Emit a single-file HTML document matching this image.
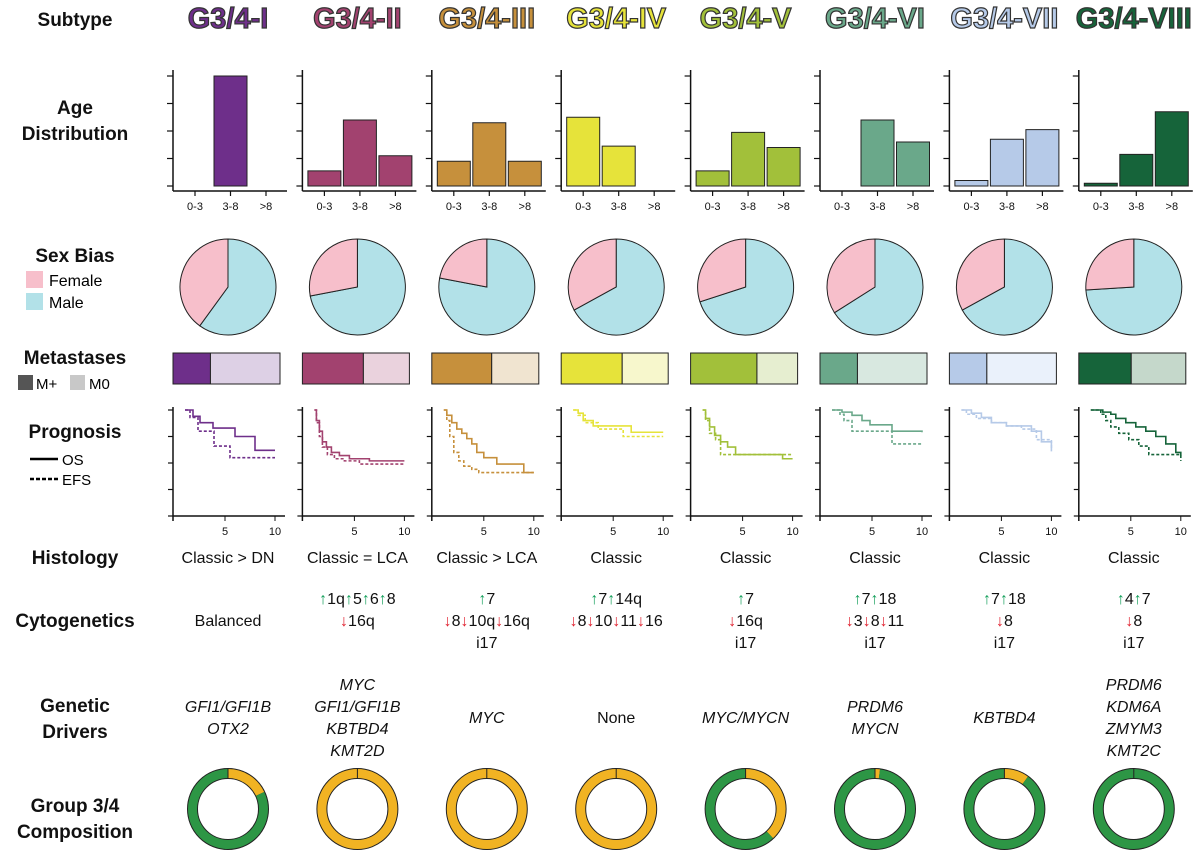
<!DOCTYPE html>
<html><head><meta charset="utf-8"><style>
body{margin:0;background:#fff;}
svg{display:block;font-family:"Liberation Sans",sans-serif;}
.lab{font-weight:bold;font-size:19px;text-anchor:middle;fill:#111;}
.t{font-size:16px;text-anchor:middle;fill:#111;}
.it{font-size:16px;text-anchor:middle;font-style:italic;fill:#111;}
.tick{font-size:11px;text-anchor:middle;fill:#111;}
</style></head><body>
<svg id="fig" width="1200" height="863" viewBox="0 0 1200 863">
<g>
<text class="lab" x="75" y="26">Subtype</text>
<text class="lab" x="75" y="114">Age</text>
<text class="lab" x="75" y="140">Distribution</text>
<text class="lab" x="75" y="262">Sex Bias</text>
<rect x="26" y="271" width="17" height="17" fill="#f7bfcb"/>
<text x="49" y="286" font-size="16">Female</text>
<rect x="26" y="293" width="17" height="17" fill="#b2e1e8"/>
<text x="49" y="308" font-size="16">Male</text>
<text class="lab" x="75" y="364">Metastases</text>
<rect x="18" y="375" width="15" height="15" fill="#555"/>
<text x="36" y="389" font-size="15">M+</text>
<rect x="70" y="375" width="15" height="15" fill="#c8c8c8"/>
<text x="89" y="389" font-size="15">M0</text>
<text class="lab" x="75" y="438">Prognosis</text>
<line x1="30" y1="459" x2="58" y2="459" stroke="#000" stroke-width="2.5"/>
<text x="62" y="465" font-size="15">OS</text>
<line x1="30" y1="479" x2="58" y2="479" stroke="#000" stroke-width="2.5" stroke-dasharray="4,2"/>
<text x="62" y="485" font-size="15">EFS</text>
<text class="lab" x="75" y="564">Histology</text>
<text class="lab" x="75" y="627">Cytogenetics</text>
<text class="lab" x="75" y="712">Genetic</text>
<text class="lab" x="75" y="738">Drivers</text>
<text class="lab" x="75" y="812">Group 3/4</text>
<text class="lab" x="75" y="838">Composition</text>
</g>
</svg>
<script>
const subtypes=["G3/4-I","G3/4-II","G3/4-III","G3/4-IV","G3/4-V","G3/4-VI","G3/4-VII","G3/4-VIII"];
const darkColors=["#6e2f8a","#a2426f","#c6903c","#e6e33a","#a2c03a","#6aa88a","#b6cae8","#16643a"];
const lightColors=["#ddd0e5","#ead2dd","#f0e4d0","#f7f7cc","#e6eed0","#d8e8e0","#eaf1fb","#c5d8cb"];
const ageCats=["0-3","3-8",">8"];
const ageVals=[[0,4,0],[0.55,2.4,1.1],[0.9,2.3,0.9],[2.5,1.45,0],[0.55,1.95,1.4],[0,2.4,1.6],[0.2,1.7,2.05],[0.1,1.15,2.7]];
const femaleFrac=[0.40,0.28,0.22,0.33,0.30,0.34,0.33,0.26];
const metPlusFrac=[0.35,0.57,0.56,0.57,0.62,0.35,0.35,0.49];
const osT=[[1,1.8,2.5,3.8,6,8,10],[1,1.2,1.5,1.8,2.2,2.7,3.5,4.5,6.5,10],[1,1.3,1.8,2.3,2.8,3.3,3.8,4.3,5,6.3,9,10],[1,1.5,2,3,6.8,10],[1,1.3,1.7,2.2,2.8,3.5,4.3,9,10],[1,2,3,4,4.8,7,10],[1,2,3,4,5.5,8,9,10],[1,2.2,3,3.5,4.5,5.5,6.5,7.5,8.5,9.5,10]];
const osS=[[1,.94,.88,.83,.75,.62,.62],[1,.9,.8,.7,.65,.6,.57,.54,.52,.52],[1,.95,.88,.82,.78,.73,.68,.6,.55,.49,.41,.41],[1,.97,.9,.85,.79,.79],[1,.92,.84,.76,.7,.65,.58,.54,.54],[1,.98,.95,.9,.86,.8,.79],[1,.97,.93,.88,.85,.8,.7,.61],[1,.98,.96,.92,.88,.84,.8,.75,.68,.6,.57]];
const efsT=[[1,1.5,2.3,3.9,5.5,10],[1,1.2,1.5,1.8,2.3,3,4,5.5,10],[1,1.3,1.6,2,2.5,3,3.8,4.5,10],[1,1.5,2.2,3.5,6,10],[1,1.3,1.7,2.3,2.8,10],[1,1.8,2.2,3,7,10],[1,1.5,2.5,4,5.5,7,8.5,10],[1,2,2.5,3,3.8,4.8,5.8,6.8,10]];
const efsS=[[1,.93,.8,.66,.55,.55],[1,.88,.75,.65,.58,.54,.52,.49,.49],[1,.9,.75,.6,.52,.47,.44,.41,.41],[1,.95,.88,.82,.75,.75],[1,.9,.78,.72,.58,.58],[1,.96,.9,.8,.68,.68],[1,.96,.92,.88,.85,.82,.72,.63],[1,.96,.9,.84,.78,.72,.66,.58,.52]];
const histology=["Classic > DN","Classic = LCA","Classic > LCA","Classic","Classic","Classic","Classic","Classic"];
const cytoGain=[[],["1q","5","6","8"],["7"],["7","14q"],["7"],["7","18"],["7","18"],["4","7"]];
const cytoLoss=[[],["16q"],["8","10q","16q"],["8","10","11","16"],["16q"],["3","8","11"],["8"],["8"]];
const cytoI17=[false,false,true,false,true,true,true,true];
const drivers=[["GFI1/GFI1B","OTX2"],["MYC","GFI1/GFI1B","KBTBD4","KMT2D"],["MYC"],["None"],["MYC/MYCN"],["PRDM6","MYCN"],["KBTBD4"],["PRDM6","KDM6A","ZMYM3","KMT2C"]];
const group4Frac=[0.82,0,0,0,0.62,0.98,0.9,1.0];

const NS="http://www.w3.org/2000/svg";
const svg=document.getElementById('fig');
function el(tag,attrs,parent,txt){const e=document.createElementNS(NS,tag);for(const k in attrs)e.setAttribute(k,attrs[k]);if(txt!==undefined)e.textContent=txt;(parent||svg).appendChild(e);return e;}
const axisX=i=>173+129.4*i;
const ageY=v=>186-v*27.5;
const survX=(i,t)=>axisX(i)+2+10*t;
const survY=s=>516-106*s;

function stepPath(i,T,S){let d=`M${survX(i,T[0])},${survY(S[0])}`;for(let k=1;k<T.length;k++){d+=` H${survX(i,T[k])} V${survY(S[k])}`;}return d;}
function wedge(cx,cy,r,a0,a1){const p0=[cx+r*Math.sin(a0),cy-r*Math.cos(a0)],p1=[cx+r*Math.sin(a1),cy-r*Math.cos(a1)];const large=Math.abs(a1-a0)>Math.PI?1:0;const sw=a1>a0?1:0;return `M${cx},${cy} L${p0[0]},${p0[1]} A${r},${r} 0 ${large} ${sw} ${p1[0]},${p1[1]} Z`;}
function arcSeg(cx,cy,r,a0,a1){const p0=[cx+r*Math.sin(a0),cy-r*Math.cos(a0)],p1=[cx+r*Math.sin(a1),cy-r*Math.cos(a1)];const large=(a1-a0)>Math.PI?1:0;return `M${p0[0]},${p0[1]} A${r},${r} 0 ${large} 1 ${p1[0]},${p1[1]}`;}

subtypes.forEach((name,i)=>{
  const ax=axisX(i), cx=ax+55;
  const g=el('g',{});
  
  
  const tt=el('text',{x:cx,y:28,'text-anchor':'middle','font-size':29,'font-weight':'bold',fill:darkColors[i],stroke:'#333','stroke-width':1.2},g,name);
  
  
  const ag=el('g',{},g);
  
  
  el('line',{x1:ax,y1:70,x2:ax,y2:191,stroke:'#111','stroke-width':1.5},ag);
  el('line',{x1:ax,y1:191,x2:ax+114,y2:191,stroke:'#111','stroke-width':1.5},ag);
  for(let k=0;k<=4;k++)el('line',{x1:ax-6,y1:ageY(k),x2:ax,y2:ageY(k),stroke:'#111','stroke-width':1.2},ag);
  ageCats.forEach((c,k)=>{
    const bx=ax+22+35.5*k;
    el('line',{x1:bx,y1:191,x2:bx,y2:196,stroke:'#111','stroke-width':1.2},ag);
    const lt=el('text',{class:'tick',x:bx,y:210},ag,c);
    
    
    const v=ageVals[i][k];
    if(v>0){const r=el('rect',{x:bx-16.5,y:ageY(v),width:33,height:186-ageY(v),fill:darkColors[i],stroke:'#222','stroke-width':1},ag);
      
      }
  });
  const pg=el('g',{},g);
  
  
  const fa=femaleFrac[i]*2*Math.PI;
  const mp=el('path',{d:wedge(cx,287,48,0,2*Math.PI-fa),fill:'#b2e1e8',stroke:'#222','stroke-width':1},pg);
  
  
  const fp=el('path',{d:wedge(cx,287,48,0,-fa),fill:'#f7bfcb',stroke:'#222','stroke-width':1},pg);
  
  
  const mw=107,mx=ax,mpw=mw*metPlusFrac[i];
  const m1=el('rect',{x:mx,y:353,width:mpw,height:31,fill:darkColors[i],stroke:'#222','stroke-width':1},g);
  
  
  const m2=el('rect',{x:mx+mpw,y:353,width:mw-mpw,height:31,fill:lightColors[i],stroke:'#222','stroke-width':1},g);
  
  
  const sg=el('g',{},g);
  
  
  el('line',{x1:ax,y1:407,x2:ax,y2:521,stroke:'#111','stroke-width':1.5},sg);
  el('line',{x1:ax,y1:516,x2:ax+112,y2:516,stroke:'#111','stroke-width':1.5},sg);
  for(let k=0;k<=4;k++)el('line',{x1:ax-5,y1:survY(k/4),x2:ax,y2:survY(k/4),stroke:'#111','stroke-width':1.2},sg);
  [5,10].forEach(t=>{el('line',{x1:survX(i,t),y1:516,x2:survX(i,t),y2:521,stroke:'#111'},sg);
    const tl=el('text',{class:'tick',x:survX(i,t),y:535},sg,t);
    
    });
  const efs=el('path',{d:stepPath(i,efsT[i],efsS[i]),fill:'none',stroke:darkColors[i],'stroke-width':1.6,'stroke-dasharray':'3,2'},sg);
  
  
  const os=el('path',{d:stepPath(i,osT[i],osS[i]),fill:'none',stroke:darkColors[i],'stroke-width':1.6},sg);
  
  
  const ht=el('text',{class:'t',x:cx,y:563},g,histology[i]);
  
  
  const lines=[];
  if(cytoGain[i].length)lines.push(cytoGain[i].map(s=>['↑',s]));
  if(cytoLoss[i].length)lines.push(cytoLoss[i].map(s=>['↓',s]));
  if(cytoI17[i])lines.push([['','i17']]);
  if(!lines.length){const bt=el('text',{class:'t',x:cx,y:626},g,'Balanced');}
  lines.forEach((ln,k)=>{
    const tx=el('text',{class:'t',x:cx,y:604+22*k},g);
    
    
    ln.forEach(([a,s])=>{if(a)el('tspan',{fill:a==='↑'?'#16a05c':'#e0202e'},tx,a);el('tspan',{},tx,s);});
  });
  const dl=drivers[i],n=dl.length;
  dl.forEach((d,k)=>{const dt=el('text',{class:d==='None'?'t':'it',x:cx,y:723+22*(k-(n-1)/2)},g,d);
    
    });
  const dg=el('g',{},g);
  
  
  const R=35.5,cy=809,o=group4Frac[i];
  const orangeA=(1-o)*2*Math.PI;
  el('circle',{cx:cx,cy:cy,r:R,fill:'none',stroke:'#222','stroke-width':11},dg);
  if(orangeA>0.001&&orangeA<2*Math.PI-0.001){
    el('path',{d:arcSeg(cx,cy,R,0,orangeA),fill:'none',stroke:'#f1b323','stroke-width':9},dg);
    el('path',{d:arcSeg(cx,cy,R,orangeA,2*Math.PI),fill:'none',stroke:'#2d9645','stroke-width':9},dg);
  } else el('circle',{cx:cx,cy:cy,r:R,fill:'none',stroke:orangeA>1?'#f1b323':'#2d9645','stroke-width':9},dg);
  el('line',{x1:cx,y1:cy-R-5,x2:cx,y2:cy-R+5,stroke:'#222','stroke-width':1},dg);
});
</script>
</body></html>
